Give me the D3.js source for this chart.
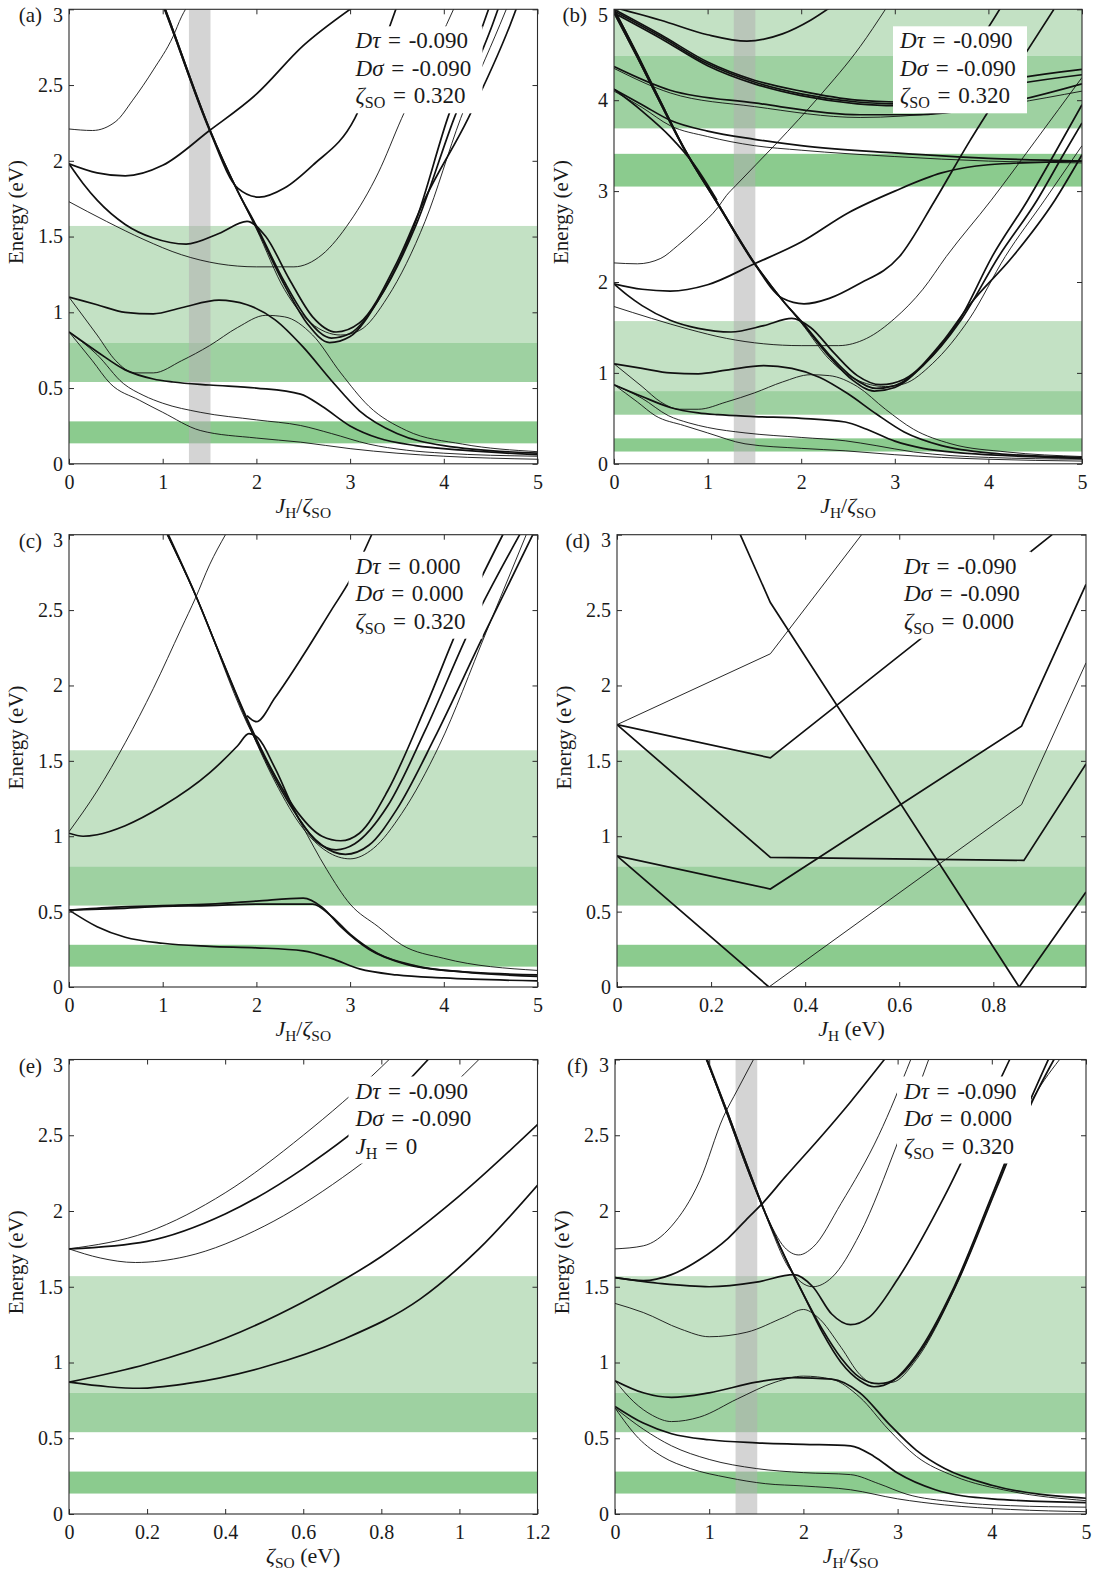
<!DOCTYPE html>
<html>
<head>
<meta charset="utf-8">
<script src="https://cdn.jsdelivr.net/npm/d3@7"></script>
<style>
  body { margin: 0; background: #fff; }
  svg { display: block; }
  text { font-family: "Liberation Serif", "Times New Roman", serif; fill: #1a1a1a; white-space: pre; }
</style>
</head>
<body>
<svg id="fig" width="1094" height="1575"></svg>
<script>
// ---------- tick values ----------
const ticksJ = [0, 1, 2, 3, 4, 5];
const ticksE3 = [0, 0.5, 1, 1.5, 2, 2.5, 3];
const ticksE5 = [0, 1, 2, 3, 4, 5];
const ticksJeV = [0, 0.2, 0.4, 0.6, 0.8];
const ticksZeta = [0, 0.2, 0.4, 0.6, 0.8, 1, 1.2];

// ---------- shaded energy windows (eV) ----------
const bandStrong = [[0.135, 0.28]];
const bandMid = [[0.54, 0.80]];
const bandLight = [[0.80, 1.57]];
const bandStrongHigh = [[3.05, 3.41]];
const bandMidHigh = [[3.69, 4.49]];
const bandLightHigh = [[4.49, 5.0]];
const grayWindow = [1.28, 1.51];

// ---------- legend values ----------
const legendKeysA = ["tau", "sigma", "zeta"];
const legendValsA = ["-0.090", "-0.090", "0.320"];
const legendValsC = ["0.000", "0.000", "0.320"];
const legendValsD = ["-0.090", "-0.090", "0.000"];
const legendKeysE = ["tau", "sigma", "jh"];
const legendValsE = ["-0.090", "-0.090", "0"];
const legendValsF = ["-0.090", "0.000", "0.320"];

// ---------- levels vs J_H/zeta (Dtau = Dsigma = -0.09, zeta = 0.32) ----------
const aThick = [
  [[0,1.98],[0.3,1.92],[0.6,1.9],[1.0,1.97],[1.5,2.2],[2.0,2.44],[2.5,2.76],[3.0,3.0],[3.5,3.2],[4.0,3.29],[5,3.33]],
  [[0,1.98],[0.15,1.85],[0.3,1.74],[0.6,1.58],[0.9,1.49],[1.25,1.45],[1.6,1.52],[1.9,1.6],[2.1,1.5],[2.35,1.22],[2.6,0.97],[2.85,0.87],[3.1,0.93],[3.5,1.33],[3.8,1.75],[4.26,2.28],[4.71,2.9],[5,3.4]],
  [[0,5.0],[0.25,4.5],[0.49,4.0],[0.74,3.49],[1.1,2.88],[1.5,2.21],[1.8,1.8],[2.0,1.56],[2.3,1.18],[2.55,0.92],[2.78,0.8],[3.0,0.84],[3.3,1.08],[3.7,1.6],[4.04,2.28],[4.42,2.9],[4.7,3.4],[5,3.95]],
  [[0,5.0],[0.25,4.5],[0.49,4.0],[0.74,3.49],[1.1,2.88],[1.5,2.21],[1.8,1.8],[2.0,1.57],[2.3,1.2],[2.55,0.95],[2.8,0.83],[3.0,0.86],[3.3,1.08],[3.7,1.57],[4.11,2.28],[4.52,2.9],[4.8,3.4],[5,3.75]],
  [[0,4.97],[0.25,4.47],[0.49,3.98],[0.74,3.48],[1.1,2.87],[1.5,2.2],[1.8,1.82],[2.03,1.76],[2.3,1.82],[2.6,1.97],[3.05,2.28],[3.43,2.9],[3.8,3.55],[4.2,4.2],[4.7,5.0]],
  [[0,1.1],[0.3,1.05],[0.6,1.0],[0.9,0.99],[1.2,1.03],[1.6,1.08],[1.9,1.05],[2.2,0.95],[2.5,0.77],[2.8,0.55],[3.1,0.35],[3.5,0.2],[4.0,0.12],[5,0.07]],
  [[0,0.87],[0.3,0.74],[0.6,0.62],[0.9,0.56],[1.11,0.54],[1.5,0.52],[2.0,0.5],[2.47,0.46],[2.7,0.38],[3.0,0.25],[3.3,0.17],[3.7,0.12],[4.2,0.09],[5,0.06]]
];
const aThin = [
  [[0,2.21],[0.25,2.2],[0.5,2.26],[0.68,2.4],[0.9,2.6],[1.11,2.82],[1.2,2.95],[1.3,3.06],[1.74,3.53],[2.2,4.05],[2.63,4.59],[2.9,5.0]],
  [[0,1.73],[0.4,1.6],[0.8,1.48],[1.2,1.38],[1.6,1.32],[2.0,1.3],[2.4,1.3],[2.7,1.38],[3.0,1.6],[3.3,1.92],[3.55,2.28],[4.03,2.9],[4.5,3.55],[5,4.25]],
  [[0,4.95],[0.25,4.46],[0.49,3.97],[0.74,3.47],[1.1,2.86],[1.5,2.2],[1.8,1.8],[2.0,1.55],[2.3,1.15],[2.58,0.93],[2.9,0.85],[3.1,0.88],[3.4,1.1],[3.8,1.6],[4.18,2.28],[4.6,2.9],[5,3.5]],
  [[0,1.1],[0.3,0.85],[0.5,0.68],[0.7,0.6],[0.9,0.6],[1.2,0.68],[1.5,0.78],[1.8,0.9],[2.1,0.98],[2.3,0.97],[2.6,0.85],[2.9,0.6],[3.2,0.38],[3.6,0.22],[4.2,0.13],[5,0.08]],
  [[0,0.87],[0.3,0.72],[0.58,0.53],[0.8,0.45],[1.0,0.4],[1.4,0.34],[2.0,0.29],[2.47,0.253],[2.8,0.2],[3.2,0.13],[3.6,0.09],[4,0.07],[5,0.05]],
  [[0,0.87],[0.25,0.68],[0.44,0.53],[0.75,0.42],[1.0,0.34],[1.4,0.22],[2.0,0.17],[2.47,0.143],[3.0,0.1],[3.5,0.07],[4.0,0.05],[5,0.03]]
];

// ---------- higher levels shown only on the 0-5 eV scale ----------
const bThick = [
  [[0,5.02],[0.5,4.88],[1.0,4.72],[1.42,4.65],[1.8,4.73],[2.1,4.88],[2.35,5.05]],
  [[0,5.0],[0.5,4.72],[1.0,4.42],[1.5,4.22],[2.0,4.1],[2.6,4.0],[3.0,3.98],[3.4,4.08],[3.8,4.5],[4.15,5.05]],
  [[0,4.98],[0.5,4.7],[1.0,4.4],[1.5,4.2],[2.0,4.07],[2.6,3.98],[3.0,3.96],[3.5,4.04],[4.0,4.18],[5,4.34]],
  [[0,4.96],[0.5,4.68],[1.0,4.38],[1.5,4.18],[2.0,4.05],[2.6,3.96],[3.0,3.94],[3.5,3.99],[4.0,4.12],[5,4.28]],
  [[0,4.37],[0.6,4.11],[1.5,3.97],[2.63,3.84],[3.2,3.84],[4.0,3.93],[5,4.18]],
  [[0,4.12],[0.3,3.95],[0.6,3.78],[1.0,3.66],[1.5,3.57],[2.0,3.5],[3.0,3.42],[4.0,3.36],[5,3.33]],
  [[0,4.12],[0.3,3.88],[0.6,3.6],[0.85,3.3],[1.1,2.9]]
];
const bThin = [
  [[0,4.35],[0.6,4.08],[1.5,3.93],[2.63,3.81],[3.5,3.86],[5,4.1]],
  [[0,4.1],[0.3,3.92],[0.6,3.72],[1.0,3.6],[1.5,3.5],[2.0,3.45],[3.0,3.38],[4,3.33],[5,3.31]]
];

// ---------- Dtau = Dsigma = 0, zeta = 0.32 ----------
const cThick = [
  [[1.05,3.0],[1.35,2.6],[1.6,2.22],[1.9,1.78],[2.2,1.4],[2.45,1.15],[2.7,1.0],[2.9,0.97],[3.1,1.02],[3.4,1.3],[3.8,1.85],[4.2,2.45],[4.63,3.0]],
  [[1.06,3.0],[1.35,2.6],[1.6,2.22],[1.9,1.77],[2.2,1.38],[2.45,1.12],[2.65,0.96],[2.85,0.91],[3.05,0.95],[3.4,1.2],[3.8,1.7],[4.3,2.4],[4.81,3.0]],
  [[0,1.02],[0.15,1.0],[0.3,1.01],[0.6,1.07],[1.0,1.2],[1.5,1.42],[1.8,1.6],[1.92,1.68],[2.02,1.65],[2.2,1.45],[2.45,1.12],[2.7,0.94],[2.95,0.88],[3.2,0.94],[3.5,1.18],[3.9,1.65],[4.4,2.3],[4.95,3.0]],
  [[1.9,1.8],[2.0,1.76],[2.2,1.92],[2.5,2.2],[2.8,2.5],[3.0,2.7],[3.23,3.0]],
  [[0,0.51],[0.5,0.53],[1.0,0.54],[1.5,0.55],[2.0,0.57],[2.5,0.59],[2.7,0.53],[2.9,0.4],[3.2,0.25],[3.6,0.15],[4.0,0.11],[5,0.08]],
  [[0,0.51],[0.5,0.52],[1.0,0.535],[1.5,0.54],[2.0,0.55],[2.6,0.55],[2.8,0.47],[3.0,0.35],[3.3,0.22],[3.7,0.14],[4.2,0.1],[5,0.07]],
  [[0,0.51],[0.3,0.4],[0.6,0.33],[1.0,0.29],[1.5,0.27],[2.0,0.26],[2.5,0.24],[2.8,0.19],[3.1,0.12],[3.5,0.08],[4,0.06],[5,0.04]]
];
const cThin = [
  [[0,1.03],[0.3,1.3],[0.6,1.62],[0.9,1.98],[1.2,2.38],[1.35,2.58],[1.5,2.8],[1.67,3.0]],
  [[1.05,3.0],[1.35,2.6],[1.9,1.75],[2.2,1.4],[2.48,1.08],[2.75,0.78],[3.0,0.55],[3.3,0.4],[3.55,0.28],[4.0,0.19],[5,0.11]],
  [[1.05,3.0],[1.35,2.6],[1.9,1.76],[2.2,1.36],[2.5,1.05],[2.75,0.9],[3.0,0.85],[3.25,0.92],[3.55,1.15],[3.95,1.6],[4.45,2.35],[4.88,3.0]]
];

// ---------- levels vs J_H (eV), zeta = 0 ----------
const dThick = [
  [[0,0.87],[0.323,0],[0.855,0],[0.997,0.63]],
  [[0.262,3.0],[0.326,2.55],[0.855,0],[0.997,0]],
  [[0,1.74],[0.326,0.86],[0.865,0.84],[0.997,1.48]],
  [[0,0.87],[0.326,0.65],[0.86,1.73],[0.997,2.67]],
  [[0,1.74],[0.326,1.52],[0.925,3.0]]
];
const dThin = [
  [[0,0],[0.323,0],[0.86,1.21],[0.997,2.15]],
  [[0,1.74],[0.326,2.21],[0.52,3.0]]
];

// ---------- levels vs zeta (eV), J_H = 0 ----------
const eThick = [
  [[0,1.75],[0.2,1.8],[0.4,1.98],[0.6,2.28],[0.8,2.68],[0.92,3.0]],
  [[0,0.87],[0.2,0.99],[0.4,1.16],[0.6,1.4],[0.8,1.7],[1.0,2.1],[1.2,2.57]],
  [[0,0.87],[0.1,0.84],[0.18,0.83],[0.3,0.86],[0.5,0.97],[0.7,1.15],[0.9,1.42],[1.05,1.75],[1.2,2.17]]
];
const eThin = [
  [[0,1.75],[0.2,1.86],[0.4,2.12],[0.6,2.5],[0.8,2.95],[0.82,3.0]],
  [[0,1.75],[0.08,1.69],[0.17,1.66],[0.3,1.7],[0.5,1.9],[0.7,2.22],[0.9,2.63],[1.05,3.0]]
];

// ---------- Dtau = -0.09, Dsigma = 0, zeta = 0.32 ----------
const fThick = [
  [[0.97,3.0],[1.2,2.64],[1.42,2.27],[1.6,1.98],[1.8,1.7],[2.0,1.45],[2.2,1.2],[2.4,1.0],[2.6,0.88],[2.75,0.84],[2.95,0.88],[3.2,1.05],[3.6,1.5],[4.0,2.1],[4.4,2.72],[4.6,3.0]],
  [[0.98,3.0],[1.2,2.64],[1.42,2.27],[1.6,1.98],[1.8,1.7],[2.0,1.45],[2.2,1.22],[2.4,1.03],[2.6,0.9],[2.8,0.86],[3.0,0.9],[3.25,1.08],[3.65,1.55],[4.05,2.15],[4.45,2.75],[4.66,3.0]],
  [[0,1.56],[0.3,1.54],[0.6,1.58],[0.9,1.68],[1.2,1.82],[1.42,1.96],[1.55,2.04],[1.8,2.22],[2.2,2.5],[2.5,2.72],[2.86,3.0]],
  [[0,1.56],[0.5,1.52],[1.0,1.5],[1.5,1.53],[1.9,1.58],[2.1,1.5],[2.3,1.32],[2.5,1.25],[2.7,1.3],[3.0,1.55],[3.5,2.1],[4.0,2.75],[4.19,3.0]],
  [[0,0.88],[0.3,0.8],[0.6,0.77],[1.0,0.8],[1.5,0.87],[1.9,0.9],[2.3,0.89],[2.6,0.8],[2.9,0.6],[3.2,0.42],[3.5,0.3],[4.0,0.19],[5,0.104]],
  [[0,0.71],[0.3,0.6],[0.6,0.53],[1.0,0.49],[1.5,0.47],[2.0,0.46],[2.5,0.45],[2.75,0.38],[3.0,0.27],[3.4,0.16],[4.0,0.1],[5,0.075]]
];
const fThin = [
  [[0,1.75],[0.3,1.77],[0.6,1.9],[0.9,2.2],[1.15,2.62],[1.3,2.8],[1.47,3.0]],
  [[0.97,3.0],[1.2,2.62],[1.42,2.25],[1.6,1.98],[1.8,1.76],[1.95,1.71],[2.1,1.76],[2.4,2.05],[2.8,2.5],[3.14,3.0]],
  [[0.97,3.0],[1.2,2.62],[1.42,2.25],[1.6,1.97],[1.85,1.62],[2.1,1.5],[2.3,1.56],[2.6,1.85],[3.0,2.45],[3.33,3.0]],
  [[0,1.39],[0.3,1.33],[0.7,1.22],[1.0,1.17],[1.4,1.2],[1.8,1.3],[2.0,1.35],[2.15,1.3],[2.4,1.1],[2.6,0.92],[2.75,0.86],[2.95,0.87],[3.2,1.02],[3.6,1.48],[4.0,2.08],[4.4,2.7],[4.72,3.0]],
  [[0,0.88],[0.2,0.74],[0.4,0.65],[0.6,0.61],[0.9,0.64],[1.3,0.76],[1.7,0.87],[2.0,0.91],[2.3,0.89],[2.6,0.77],[2.9,0.56],[3.2,0.38],[3.6,0.25],[4.2,0.15],[5,0.088]],
  [[0,0.7],[0.3,0.56],[0.6,0.45],[1.0,0.36],[1.5,0.3],[2.0,0.273],[2.5,0.26],[2.8,0.2],[3.1,0.13],[3.6,0.08],[4.2,0.055],[5,0.045]],
  [[0,0.7],[0.25,0.5],[0.5,0.38],[0.8,0.3],[1.2,0.24],[1.6,0.2],[2.0,0.185],[2.5,0.16],[3.0,0.1],[3.5,0.06],[4.2,0.03],[5,0.015]]
];

// ---------- text fragments ----------
const symbolParts = {
  tau:   [{t: "D", i: 1}, {t: "τ", i: 1}],
  sigma: [{t: "D", i: 1}, {t: "σ", i: 1}],
  zeta:  [{t: "ζ", i: 1}, {t: "SO", s: 1}],
  jh:    [{t: "J", i: 1}, {t: "H", s: 1}]
};
const titleParts = {
  jz:  [{t: "J", i: 1}, {t: "H", s: 1}, {t: "/"}, {t: "ζ", i: 1}, {t: "SO", s: 1}],
  jev: [{t: "J", i: 1}, {t: "H", s: 1}, {t: " (eV)"}],
  zev: [{t: "ζ", i: 1}, {t: "SO", s: 1}, {t: " (eV)"}]
};

const COLORS = { strong: "#8bcb8e", mid: "#9ed1a1", light: "#c3e1c4", gray: "#b1b1b1", axis: "#2b2b2b", line: "#111" };

const svg = d3.select("#fig");
const defs = svg.append("defs");

function mathText(parent, parts, size) {
  const t = parent.append("text").attr("font-size", size);
  let shift = 0;
  parts.forEach(p => {
    const ts = t.append("tspan").text(p.t);
    if (p.i) ts.attr("font-style", "italic");
    const target = p.s ? size * 0.22 : 0;
    if (target !== shift) { ts.attr("dy", target - shift); shift = target; }
    if (p.s) ts.attr("font-size", size * 0.7);
  });
  return t;
}

const fmt = v => String(+v.toFixed(2));
const EQ = "\u2004=\u2004";

function drawPanel(p) {
  const { left, right, top, bottom } = p.box;
  const x = d3.scaleLinear().domain(p.xDom).range([left, right]);
  const y = d3.scaleLinear().domain(p.yDom).range([bottom, top]);
  const g = svg.append("g");

  const clipId = "clip-" + p.key;
  defs.append("clipPath").attr("id", clipId)
    .append("rect").attr("x", left).attr("y", top).attr("width", right - left).attr("height", bottom - top);
  const plot = g.append("g").attr("clip-path", `url(#${clipId})`);

  // shaded energy windows
  p.bands.forEach(([list, color]) => {
    list.forEach(([lo, hi]) => {
      const h = Math.min(hi, p.yDom[1]);
      plot.append("rect").attr("x", left).attr("width", right - left)
        .attr("y", y(h)).attr("height", y(lo) - y(h)).attr("fill", color);
    });
  });

  // gray window
  if (p.gray) {
    plot.append("rect").attr("x", x(grayWindow[0])).attr("width", x(grayWindow[1]) - x(grayWindow[0]))
      .attr("y", top).attr("height", bottom - top)
      .attr("fill", COLORS.gray).attr("fill-opacity", 0.55);
  }

  // level curves
  const line = d3.line().x(d => x(d[0])).y(d => y(d[1]))
    .curve(p.linear ? d3.curveLinear : d3.curveMonotoneX);
  p.thin.forEach(set => set.forEach(c => plot.append("path").attr("d", line(c))
    .attr("fill", "none").attr("stroke", COLORS.line).attr("stroke-width", 0.9)));
  p.thick.forEach(set => set.forEach(c => plot.append("path").attr("d", line(c))
    .attr("fill", "none").attr("stroke", COLORS.line).attr("stroke-width", 1.7)));

  // parameter box
  const tx = right - 182;
  const base = [top + 39, top + 66.5, top + 94];
  g.append("rect").attr("x", tx - 7).attr("y", top + 17).attr("width", 134).attr("height", 87).attr("fill", "#fff");
  p.legendKeys.forEach((k, i) => {
    const parts = symbolParts[k].concat([{t: EQ + p.legendVals[i]}]);
    mathText(g, parts, 23).attr("x", tx).attr("y", base[i]);
  });

  // axes: ticks pointing inward on all four sides
  const styleAxis = sel => {
    sel.select(".domain").remove();
    sel.selectAll(".tick line").attr("stroke", COLORS.axis).attr("stroke-width", 1);
    sel.selectAll("text").attr("font-family", null).attr("font-size", 20).attr("fill", "#1a1a1a");
    sel.attr("font-family", null).attr("font-size", null);
  };
  g.append("g").attr("transform", `translate(0,${bottom})`)
    .call(d3.axisBottom(x).tickValues(p.xTicks).tickSizeInner(-5).tickSizeOuter(0).tickPadding(11).tickFormat(fmt))
    .call(styleAxis);
  g.append("g").attr("transform", `translate(0,${top})`)
    .call(d3.axisTop(x).tickValues(p.xTicks).tickSizeInner(-5).tickSizeOuter(0).tickFormat(""))
    .call(styleAxis);
  const yAx = g.append("g").attr("transform", `translate(${left},0)`)
    .call(d3.axisLeft(y).tickValues(p.yTicks).tickSizeInner(-5).tickSizeOuter(0).tickPadding(6).tickFormat(fmt))
    .call(styleAxis);
  yAx.selectAll(".tick").filter(d => d === p.yDom[1]).select("text").attr("y", 5.5);
  g.append("g").attr("transform", `translate(${right},0)`)
    .call(d3.axisRight(y).tickValues(p.yTicks).tickSizeInner(-5).tickSizeOuter(0).tickFormat(""))
    .call(styleAxis);
  g.append("rect").attr("x", left).attr("y", top).attr("width", right - left).attr("height", bottom - top)
    .attr("fill", "none").attr("stroke", COLORS.axis).attr("stroke-width", 1.1);

  // titles
  mathText(g, titleParts[p.xTitle], 22).attr("x", (left + right) / 2).attr("y", bottom + 49).attr("text-anchor", "middle");
  g.append("text").attr("font-size", 21).attr("text-anchor", "end")
    .attr("transform", `translate(${left - 46},${top + 150.7}) rotate(-90)`).text("Energy (eV)");
  g.append("text").attr("font-size", 21).attr("text-anchor", "end")
    .attr("x", left - 27).attr("y", top + 13).text(p.label);
}

const lowBands = [[bandLight, COLORS.light], [bandMid, COLORS.mid], [bandStrong, COLORS.strong]];
const highBands = [[bandLightHigh, COLORS.light], [bandMidHigh, COLORS.mid], [bandStrongHigh, COLORS.strong]];

const panels = [
  { key: "a", label: "(a)", box: {left: 69, right: 537.5, top: 9.3, bottom: 463.8},
    xDom: [0, 5], yDom: [0, 3], xTicks: ticksJ, yTicks: ticksE3, xTitle: "jz",
    bands: lowBands, gray: true, thick: [aThick], thin: [aThin], legendKeys: legendKeysA, legendVals: legendValsA },
  { key: "b", label: "(b)", box: {left: 614, right: 1082, top: 9.3, bottom: 463.8},
    xDom: [0, 5], yDom: [0, 5], xTicks: ticksJ, yTicks: ticksE5, xTitle: "jz",
    bands: lowBands.concat(highBands), gray: true, thick: [aThick, bThick], thin: [aThin, bThin], legendKeys: legendKeysA, legendVals: legendValsA },
  { key: "c", label: "(c)", box: {left: 69, right: 537.5, top: 534.7, bottom: 987},
    xDom: [0, 5], yDom: [0, 3], xTicks: ticksJ, yTicks: ticksE3, xTitle: "jz",
    bands: lowBands, gray: false, thick: [cThick], thin: [cThin], legendKeys: legendKeysA, legendVals: legendValsC },
  { key: "d", label: "(d)", box: {left: 617, right: 1086, top: 534.7, bottom: 987},
    xDom: [0, 0.997], yDom: [0, 3], xTicks: ticksJeV, yTicks: ticksE3, xTitle: "jev", linear: true,
    bands: lowBands, gray: false, thick: [dThick], thin: [dThin], legendKeys: legendKeysA, legendVals: legendValsD },
  { key: "e", label: "(e)", box: {left: 69, right: 537.5, top: 1059.5, bottom: 1514},
    xDom: [0, 1.2], yDom: [0, 3], xTicks: ticksZeta, yTicks: ticksE3, xTitle: "zev",
    bands: lowBands, gray: false, thick: [eThick], thin: [eThin], legendKeys: legendKeysE, legendVals: legendValsE },
  { key: "f", label: "(f)", box: {left: 615, right: 1086, top: 1059.5, bottom: 1514},
    xDom: [0, 5], yDom: [0, 3], xTicks: ticksJ, yTicks: ticksE3, xTitle: "jz",
    bands: lowBands, gray: true, thick: [fThick], thin: [fThin], legendKeys: legendKeysA, legendVals: legendValsF }
];

panels.forEach(drawPanel);
</script>
</body>
</html>
